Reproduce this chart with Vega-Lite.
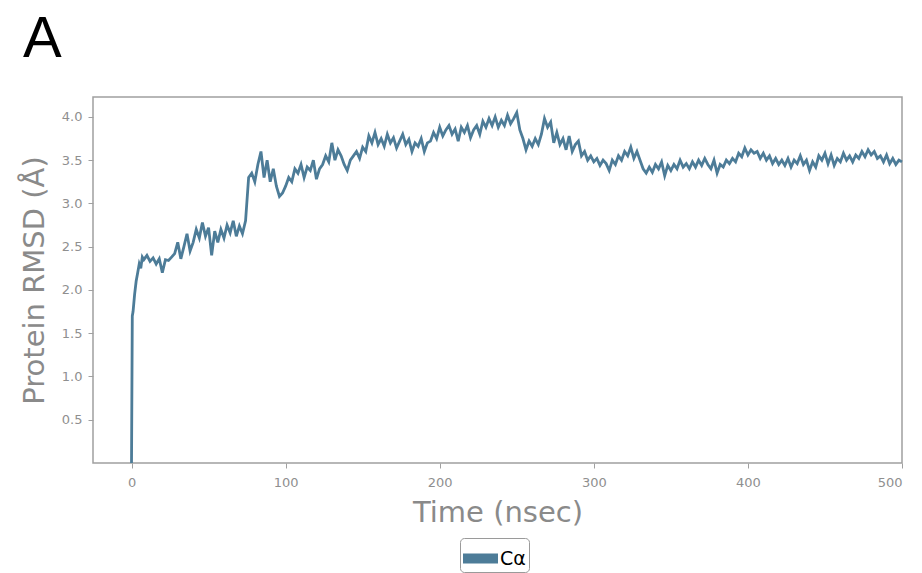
{
"$schema": "https://vega.github.io/schema/vega-lite/v6.json",
"autosize": {"type": "none"},
"padding": {"left": 93, "top": 97, "right": 20, "bottom": 110},
"width": 809,
"height": 366,
"background": "white",
"title": {"text": "A", "anchor": "start", "frame": "group", "fontSize": 58, "font": "Liberation Sans", "fontWeight": "normal", "color": "black", "dx": -70, "offset": 28},
"config": {
"view": {"stroke": "#a0a0a0", "strokeWidth": 1.5},
"axis": {"labelFont": "DejaVu Sans", "titleFont": "DejaVu Sans", "labelColor": "#8f8f8f", "titleColor": "#8a8a8a", "tickColor": "#a0a0a0", "domainColor": "#a0a0a0", "labelFontSize": 13, "titleFontSize": 29, "titleFontWeight": "normal", "grid": false, "tickSize": 5, "domain": false}
},
"data": {"values": [
{"t":0,"r":0.0},{"t":0.5,"r":1.7},{"t":1,"r":1.75},{"t":2,"r":1.95},{"t":3,"r":2.1},{"t":4,"r":2.2},{"t":5,"r":2.3},{"t":6,"r":2.25},{"t":7,"r":2.38},{"t":8,"r":2.35},
{"t":10,"r":2.4},{"t":12,"r":2.33},{"t":14,"r":2.37},{"t":16,"r":2.3},{"t":18,"r":2.36},{"t":20,"r":2.2},{"t":22,"r":2.35},{"t":24,"r":2.34},{"t":26,"r":2.38},{"t":28,"r":2.42},
{"t":30,"r":2.55},{"t":32,"r":2.36},{"t":34,"r":2.5},{"t":36,"r":2.65},{"t":38,"r":2.45},{"t":40,"r":2.55},{"t":42,"r":2.7},{"t":44,"r":2.6},{"t":46,"r":2.78},{"t":48,"r":2.62},
{"t":50,"r":2.72},{"t":52,"r":2.4},{"t":54,"r":2.68},{"t":56,"r":2.55},{"t":58,"r":2.7},{"t":60,"r":2.6},{"t":62,"r":2.75},{"t":64,"r":2.66},{"t":66,"r":2.8},{"t":68,"r":2.62},
{"t":70,"r":2.74},{"t":72,"r":2.65},{"t":74,"r":2.8},{"t":76,"r":3.3},{"t":78,"r":3.35},{"t":80,"r":3.25},{"t":82,"r":3.45},{"t":84,"r":3.6},{"t":86,"r":3.3},{"t":88,"r":3.5},
{"t":90,"r":3.25},{"t":92,"r":3.4},{"t":94,"r":3.2},{"t":96,"r":3.08},{"t":98,"r":3.12},{"t":100,"r":3.2},{"t":102,"r":3.3},{"t":104,"r":3.25},{"t":106,"r":3.4},{"t":108,"r":3.35},
{"t":110,"r":3.45},{"t":112,"r":3.3},{"t":114,"r":3.42},{"t":116,"r":3.38},{"t":118,"r":3.5},{"t":120,"r":3.28},{"t":122,"r":3.4},{"t":124,"r":3.45},{"t":126,"r":3.55},{"t":128,"r":3.48},
{"t":130,"r":3.7},{"t":132,"r":3.5},{"t":134,"r":3.62},{"t":136,"r":3.55},{"t":138,"r":3.45},{"t":140,"r":3.38},{"t":142,"r":3.5},{"t":144,"r":3.55},{"t":146,"r":3.6},{"t":148,"r":3.52},
{"t":150,"r":3.65},{"t":152,"r":3.6},{"t":154,"r":3.78},{"t":156,"r":3.7},{"t":158,"r":3.82},{"t":160,"r":3.68},{"t":162,"r":3.75},{"t":164,"r":3.66},{"t":166,"r":3.8},{"t":168,"r":3.7},
{"t":170,"r":3.76},{"t":172,"r":3.64},{"t":174,"r":3.72},{"t":176,"r":3.8},{"t":178,"r":3.68},{"t":180,"r":3.74},{"t":182,"r":3.6},{"t":184,"r":3.7},{"t":186,"r":3.66},{"t":188,"r":3.75},
{"t":190,"r":3.6},{"t":192,"r":3.7},{"t":194,"r":3.72},{"t":196,"r":3.82},{"t":198,"r":3.75},{"t":200,"r":3.88},{"t":202,"r":3.78},{"t":204,"r":3.85},{"t":206,"r":3.9},{"t":208,"r":3.8},
{"t":210,"r":3.86},{"t":212,"r":3.72},{"t":214,"r":3.88},{"t":216,"r":3.82},{"t":218,"r":3.9},{"t":220,"r":3.76},{"t":222,"r":3.85},{"t":224,"r":3.9},{"t":226,"r":3.8},{"t":228,"r":3.95},
{"t":230,"r":3.88},{"t":232,"r":3.98},{"t":234,"r":3.9},{"t":236,"r":4.0},{"t":238,"r":3.88},{"t":240,"r":3.96},{"t":242,"r":3.9},{"t":244,"r":4.02},{"t":246,"r":3.92},{"t":248,"r":3.98},
{"t":250,"r":4.05},{"t":252,"r":3.85},{"t":254,"r":3.75},{"t":256,"r":3.62},{"t":258,"r":3.72},{"t":260,"r":3.66},{"t":262,"r":3.75},{"t":264,"r":3.68},{"t":266,"r":3.8},{"t":268,"r":3.98},
{"t":270,"r":3.88},{"t":272,"r":3.94},{"t":274,"r":3.7},{"t":276,"r":3.82},{"t":278,"r":3.68},{"t":280,"r":3.75},{"t":282,"r":3.62},{"t":284,"r":3.78},{"t":286,"r":3.6},{"t":288,"r":3.68},
{"t":290,"r":3.72},{"t":292,"r":3.55},{"t":294,"r":3.6},{"t":296,"r":3.5},{"t":298,"r":3.55},{"t":300,"r":3.48},{"t":302,"r":3.52},{"t":304,"r":3.44},{"t":306,"r":3.5},{"t":308,"r":3.46},
{"t":310,"r":3.38},{"t":312,"r":3.5},{"t":314,"r":3.45},{"t":316,"r":3.55},{"t":318,"r":3.5},{"t":320,"r":3.6},{"t":322,"r":3.55},{"t":324,"r":3.65},{"t":326,"r":3.52},{"t":328,"r":3.6},
{"t":330,"r":3.5},{"t":332,"r":3.4},{"t":334,"r":3.35},{"t":336,"r":3.42},{"t":338,"r":3.36},{"t":340,"r":3.45},{"t":342,"r":3.4},{"t":344,"r":3.48},{"t":346,"r":3.32},{"t":348,"r":3.44},
{"t":350,"r":3.38},{"t":352,"r":3.45},{"t":354,"r":3.4},{"t":356,"r":3.5},{"t":358,"r":3.42},{"t":360,"r":3.46},{"t":362,"r":3.4},{"t":364,"r":3.48},{"t":366,"r":3.42},{"t":368,"r":3.5},
{"t":370,"r":3.44},{"t":372,"r":3.52},{"t":374,"r":3.45},{"t":376,"r":3.4},{"t":378,"r":3.5},{"t":380,"r":3.35},{"t":382,"r":3.45},{"t":384,"r":3.42},{"t":386,"r":3.5},{"t":388,"r":3.46},
{"t":390,"r":3.52},{"t":392,"r":3.48},{"t":394,"r":3.58},{"t":396,"r":3.54},{"t":398,"r":3.64},{"t":400,"r":3.56},{"t":402,"r":3.62},{"t":404,"r":3.58},{"t":406,"r":3.6},{"t":408,"r":3.52},
{"t":410,"r":3.58},{"t":412,"r":3.5},{"t":414,"r":3.55},{"t":416,"r":3.46},{"t":418,"r":3.52},{"t":420,"r":3.45},{"t":422,"r":3.5},{"t":424,"r":3.44},{"t":426,"r":3.52},{"t":428,"r":3.42},
{"t":430,"r":3.5},{"t":432,"r":3.46},{"t":434,"r":3.55},{"t":436,"r":3.45},{"t":438,"r":3.5},{"t":440,"r":3.38},{"t":442,"r":3.48},{"t":444,"r":3.42},{"t":446,"r":3.55},{"t":448,"r":3.5},
{"t":450,"r":3.58},{"t":452,"r":3.46},{"t":454,"r":3.56},{"t":456,"r":3.44},{"t":458,"r":3.52},{"t":460,"r":3.48},{"t":462,"r":3.58},{"t":464,"r":3.5},{"t":466,"r":3.55},{"t":468,"r":3.48},
{"t":470,"r":3.56},{"t":472,"r":3.52},{"t":474,"r":3.6},{"t":476,"r":3.54},{"t":478,"r":3.62},{"t":480,"r":3.56},{"t":482,"r":3.6},{"t":484,"r":3.52},{"t":486,"r":3.55},{"t":488,"r":3.48},
{"t":490,"r":3.56},{"t":492,"r":3.46},{"t":494,"r":3.52},{"t":496,"r":3.45},{"t":498,"r":3.5},{"t":500,"r":3.48}
]},
"mark": {"type": "line", "strokeWidth": 2.8, "interpolate": "linear"},
"encoding": {
"x": {"field": "t", "type": "quantitative", "scale": {"domain": [-25, 500], "nice": false, "zero": false},
"axis": {"title": "Time (nsec)", "values": [0, 100, 200, 300, 400, 500], "labelPadding": 8, "titlePadding": 9}},
"y": {"field": "r", "type": "quantitative", "scale": {"domain": [0, 4.23], "nice": false},
"axis": {"title": "Protein RMSD (Å)", "values": [0.5, 1.0, 1.5, 2.0, 2.5, 3.0, 3.5, 4.0], "format": ".1f", "labelPadding": 6, "titlePadding": 12}},
"color": {"datum": "Cα", "type": "nominal", "scale": {"range": ["#4d7c98"]},
"legend": {"title": null, "orient": "none", "legendX": 367, "legendY": 441, "symbolType": "M-1,-0.28H1V0.28H-1Z", "symbolSize": 1225, "symbolStrokeWidth": 0, "symbolFillColor": "#4d7c98", "labelFontSize": 19, "labelColor": "black", "labelFont": "DejaVu Sans", "padding": 3, "strokeColor": "#9a9a9a", "fillColor": "white", "cornerRadius": 4, "labelOffset": 2}}
}
}
